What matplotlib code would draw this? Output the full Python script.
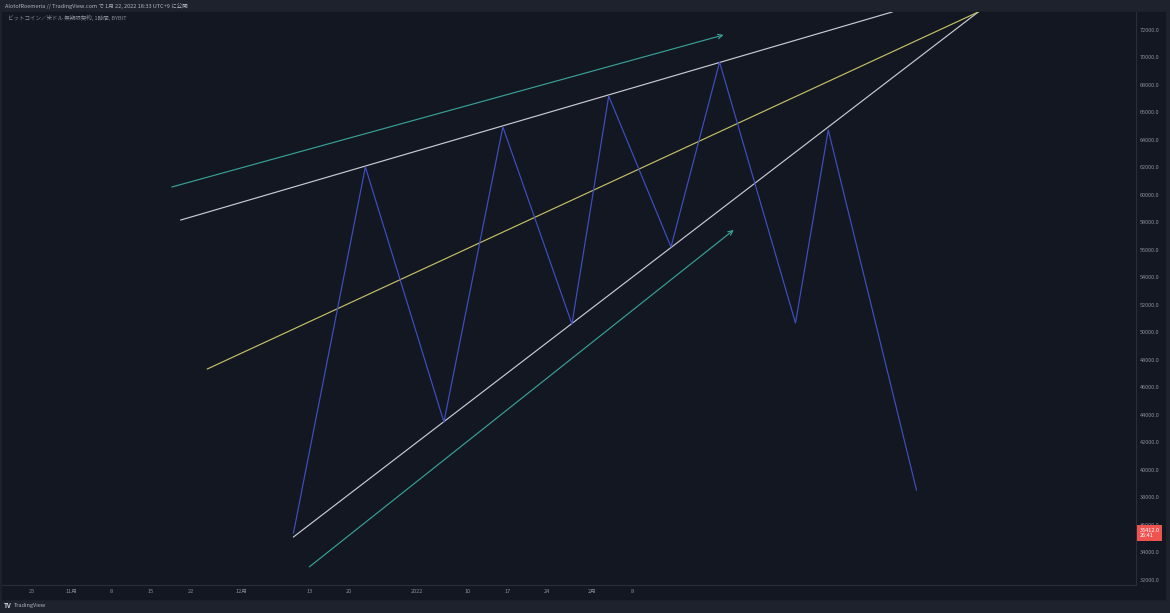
import pandas as pd
import matplotlib.pyplot as plt
from matplotlib.patches import Rectangle

# ジグザグ（予想値動き）
zz_time = ["2021-12-10 05:00", "2021-12-22 22:00", "2022-01-05 19:00", "2022-01-16 05:00",
           "2022-01-28 10:00", "2022-02-03 22:00", "2022-02-14 22:00", "2022-02-23 12:00",
           "2022-03-08 22:00", "2022-03-14 17:00", "2022-03-30 07:00"]
zz_price = [35420, 62040, 43490, 64950, 50620, 67200, 56220, 69670, 50690, 64730, 38550]

# トレンドライン
upper_time = ["2021-11-20 07:00", "2022-03-26 00:00"]
upper_price = [58180, 73310]
lower_time = ["2021-12-10 05:00", "2022-04-10 05:00"]
lower_price = [35130, 73310]
mid_time = ["2021-11-25 00:00", "2022-04-10 05:00"]
mid_price = [47350, 73310]

# 矢印
arrow_top_time = ["2021-11-18 17:00", "2022-02-24 05:00"]
arrow_top_price = [60580, 71640]
arrow_low_time = ["2021-12-13 00:00", "2022-02-26 00:00"]
arrow_low_price = [32950, 57460]

xtick_dates = ["2021-10-25", "2021-11-01", "2021-11-08", "2021-11-15", "2021-11-22", "2021-12-01",
               "2021-12-13", "2021-12-20", "2022-01-01", "2022-01-10", "2022-01-17", "2022-01-24",
               "2022-02-01", "2022-02-08"]
xtick_labels = ["25", "11月", "8", "15", "22", "12月", "13", "20", "2022", "10", "17", "24", "2月", "8"]
yticks = list(range(32000, 72001, 2000))

last_price = 35412.0

BG = "#131722"
FRAME = "#1e222d"
TXT = "#8a8e99"
FONT = ["Noto Sans CJK JP", "DejaVu Sans"]
plt.rcParams["font.family"] = FONT

W, H = 1170, 613
fig = plt.figure(figsize=(W / 100, H / 100), dpi=100, facecolor=FRAME)
fig.patches.append(Rectangle((2 / W, 1 - 599 / H), 1163 / W, 587 / H,
                             transform=fig.transFigure, color=BG, zorder=-10))
ax = fig.add_axes([2 / W, 1 - 585 / H, 1134 / W, 573 / H])
ax.set_facecolor(BG)

t = pd.to_datetime
LW = 0.85
ax.plot(t(upper_time), upper_price, color="#c9cbd2", lw=LW)
ax.plot(t(lower_time), lower_price, color="#c9cbd2", lw=LW)
ax.plot(t(mid_time), mid_price, color="#c4bf66", lw=LW)
ax.plot(t(zz_time), zz_price, color="#3e4fc0", lw=LW)

for ts, ps in [(arrow_top_time, arrow_top_price), (arrow_low_time, arrow_low_price)]:
    ts = t(ts)
    ax.annotate("", xy=(ts[1], ps[1]), xytext=(ts[0], ps[0]),
                arrowprops=dict(arrowstyle="->", color="#38a096", lw=LW,
                                mutation_scale=8, shrinkA=0, shrinkB=0))

ax.set_xlim(t("2021-10-19 17:00"), t("2022-05-08 02:00"))
ax.set_ylim(31636, 73309)

ax.set_xticks(t(xtick_dates))
ax.set_xticklabels(xtick_labels)
ax.yaxis.tick_right()
ax.set_yticks(yticks)
ax.set_yticklabels([f"{v:.1f}" for v in yticks])
ax.tick_params(axis="both", length=0, labelsize=4, colors=TXT)
ax.tick_params(axis="x", pad=3)
ax.tick_params(axis="y", pad=3)

for side in ["top", "left"]:
    ax.spines[side].set_visible(False)
for side in ["right", "bottom"]:
    ax.spines[side].set_color("#2a2e39")
    ax.spines[side].set_linewidth(0.8)

# 現在値ラベル
ax.annotate(f"{last_price:.1f}\n26:41", xy=(1.0, last_price), xycoords=("axes fraction", "data"),
            xytext=(2.5, 0), textcoords="offset points", ha="left", va="center",
            fontsize=4, color="white", linespacing=1.15, annotation_clip=False,
            bbox=dict(boxstyle="square,pad=0.45", fc="#ef5350", ec="none"))

fig.text(5 / W, 1 - 6 / H, "AlotofRoemeria // TradingView.com で 1月 22, 2022 18:33 UTC+9 に公開",
         fontsize=4, color="#b2b5be", va="center", ha="left")
fig.text(8 / W, 1 - 18 / H, "ビットコイン／米ドル 無期限契約, 1時間, BYBIT",
         fontsize=4, color=TXT, va="center", ha="left")
fig.text(4 / W, 1 - 606 / H, "TV", fontsize=4.5, color="#d1d4dc", weight="bold",
         va="center", ha="left")
fig.text(14 / W, 1 - 606 / H, "TradingView", fontsize=4, color="#b2b5be", va="center", ha="left")

fig.savefig("out.png", dpi=100, facecolor=FRAME)
